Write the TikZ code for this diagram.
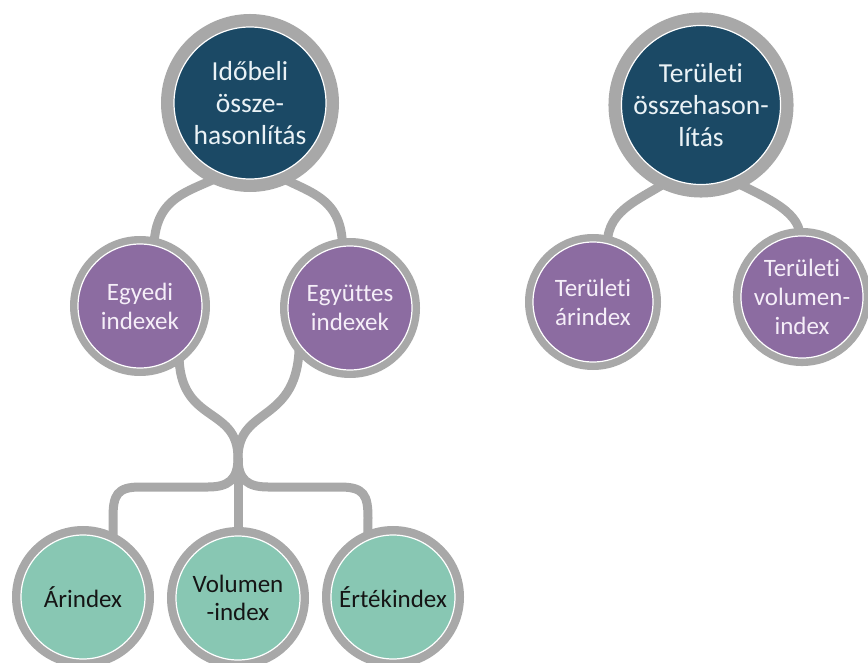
\documentclass[tikz,border=0pt]{standalone}
\usepackage{fontspec}
\setmainfont{Carlito}[Ligatures=NoCommon]
\usetikzlibrary{backgrounds}

\definecolor{navy}{HTML}{1B4965}
\definecolor{plum}{HTML}{8C6CA1}
\definecolor{mint}{HTML}{88C7B3}
\definecolor{ringgray}{HTML}{A8A8A8}
\definecolor{navytext}{HTML}{EAF2F6}
\definecolor{plumtext}{HTML}{F5EEF8}
\definecolor{minttext}{HTML}{151515}

\tikzset{
  bubble/.style={circle, inner sep=0pt, outer sep=0pt, align=center,
    draw=white, line width=1.2pt},
  topbubble/.style={bubble, minimum size=152pt, fill=navy, text=navytext,
    font=\fontsize{27.5}{32}\selectfont,
    preaction={draw=ringgray, line width=26pt}},
  midbubble/.style={bubble, minimum size=#1, fill=plum, text=plumtext,
    font=\fontsize{25}{29}\selectfont,
    preaction={draw=ringgray, line width=16pt}},
  leafbubble/.style={bubble, minimum size=124pt, fill=mint, text=minttext,
    font=\fontsize{25}{28.5}\selectfont,
    preaction={draw=ringgray, line width=18pt}},
  link/.style={draw=ringgray, line width=9pt}
}

\begin{document}
\begin{tikzpicture}[x=1pt, y=-1pt]
\useasboundingbox (0,0) rectangle (868,663);

% time-based comparison tree
\node[topbubble] (ido) at (250,103) {Időbeli\\össze-\\hasonlítás};
\node[midbubble=124pt] (egyedi) at (140,306) {Egyedi\\indexek};
\node[midbubble=124pt] (egyutt) at (350,308) {Együttes\\indexek};
\node[leafbubble] (ar) at (83,597) {Árindex};
\node[leafbubble] (vol) at (238,598) {Volumen\\-index};
\node[leafbubble] (ert) at (393,597) {Értékindex};
\coordinate (join) at (238,458);

% regional comparison tree
\node[topbubble] (ter) at (701,105) {Területi\\összehason-\\lítás};
\node[midbubble=120pt] (terar) at (593,302) {Területi\\árindex};
\node[midbubble=120pt] (tervol) at (802,297) {Területi\\volumen-\\index};

\begin{pgfonlayer}{background}
  % upper links
  \draw[link] (ido.250) .. controls (190,192) and (156,195) .. (egyedi.77);
  \draw[link] (ido.290) .. controls (305,192) and (342,195) .. (egyutt.97);
  \draw[link] (ter.248) .. controls (645,198) and (607,208) .. (terar.76);
  \draw[link] (ter.291) .. controls (760,195) and (800,210) .. (tervol.92);
  % lower links meeting in one point
  \draw[link] (egyedi.309) .. controls (179,425) and (238,405) .. (join);
  \draw[link] (egyutt.215) .. controls (299,425) and (238,405) .. (join);
  \draw[link] (join) -- (vol.90);
  \draw[link] (join) .. controls (238,480) and (228,487) .. (208,487)
    -- (140,487) .. controls (117,487) and (113,495) .. (113,518) -- (ar.61);
  \draw[link] (join) .. controls (238,480) and (248,487) .. (268,487)
    -- (340,487) .. controls (364,487) and (368,495) .. (368,518) -- (ert.114);
\end{pgfonlayer}
\end{tikzpicture}
\end{document}
